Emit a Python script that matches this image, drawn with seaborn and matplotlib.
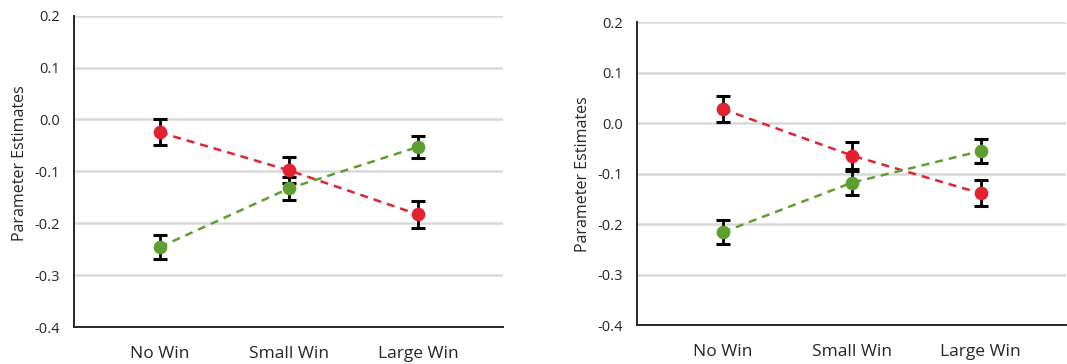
import numpy as np
import pandas as pd
import matplotlib
matplotlib.use("Agg")
import matplotlib.pyplot as plt
import seaborn as sns

# ─── Data ────────────────────────────────────────────────
categories = ["No Win", "Small Win", "Large Win"]

left_red = [-0.025, -0.098, -0.183]
left_red_err = [0.025, 0.025, 0.026]
left_green = [-0.246, -0.133, -0.053]
left_green_err = [0.023, 0.023, 0.022]

right_red = [0.028, -0.064, -0.139]
right_red_err = [0.026, 0.026, 0.026]
right_green = [-0.216, -0.118, -0.055]
right_green_err = [0.024, 0.024, 0.023]

y_ticks = [0.2, 0.1, 0.0, -0.1, -0.2, -0.3, -0.4]

# ─── Style ────────────────────────────────────────────────
RED = "#E2232F"
GREEN = "#5E9F32"
DARK = "#262626"
GRID = "#D9D9D9"

sns.set_theme(style="white")
plt.rcParams["font.family"] = ["Open Sans", "DejaVu Sans"]
plt.rcParams.update({
    "axes.edgecolor": DARK,
    "axes.linewidth": 1.4,
    "xtick.color": DARK,
    "ytick.color": DARK,
    "text.color": DARK,
    "axes.labelcolor": DARK,
})

fig = plt.figure(figsize=(10.67, 3.64), dpi=100)
ax_l = fig.add_axes([0.0694, 0.1016, 0.4020, 0.8553])
ax_r = fig.add_axes([0.5970, 0.1071, 0.4020, 0.8316])


def draw_panel(ax, red, red_err, green, green_err, label_y=0.5):
    df = pd.DataFrame({
        "cond": categories * 2,
        "value": list(red) + list(green),
        "series": ["red"] * 3 + ["green"] * 3,
    })
    for vals, errs in ((red, red_err), (green, green_err)):
        ax.errorbar(range(len(categories)), vals, yerr=errs, fmt="none",
                    ecolor="black", elinewidth=2.0, capsize=4.7, capthick=2.2,
                    zorder=3)
    n_before = len(ax.lines)
    sns.pointplot(data=df, x="cond", y="value", hue="series",
                  palette={"red": RED, "green": GREEN}, order=categories,
                  hue_order=["red", "green"], errorbar=None,
                  linestyles="--", markers="o", markersize=8.5,
                  linewidth=1.8, ax=ax, legend=False, zorder=4)
    for line in ax.lines[n_before:]:
        line.set_dashes([3.2, 2.4])
    ax.set_ylim(-0.4, 0.2)
    ax.set_xlim(-0.665, 2.66)
    ax.set_yticks(y_ticks)
    ax.set_yticklabels([f"{t:.1f}" for t in y_ticks], fontsize=10.5)
    ax.set_xticks(range(len(categories)))
    ax.set_xticklabels(categories, fontsize=12.5)
    for t in y_ticks[:-1]:
        ax.axhline(t, color=GRID, lw=1.8, zorder=0)
    ax.tick_params(axis="y", direction="out", length=6, width=1.4, pad=4)
    ax.tick_params(axis="x", direction="out", length=7, width=1.6, pad=7)
    ax.set_xlabel("")
    ax.set_ylabel("Parameter Estimates", fontsize=11.5)
    ax.yaxis.set_label_coords(-0.107, label_y)
    sns.despine(ax=ax, top=True, right=True)
    ax.grid(False)


draw_panel(ax_l, left_red, left_red_err, left_green, left_green_err, label_y=0.525)
draw_panel(ax_r, right_red, right_red_err, right_green, right_green_err)

plt.savefig("out.png", dpi=100)
plt.close()
